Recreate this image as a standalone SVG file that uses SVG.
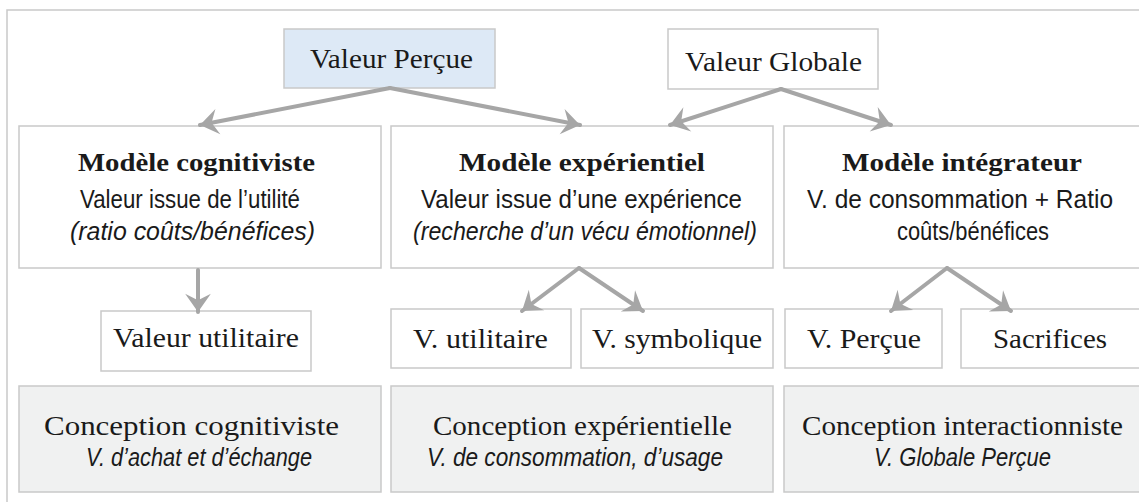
<svg xmlns="http://www.w3.org/2000/svg" width="1139" height="502" viewBox="0 0 1139 502">
<style>
.box{fill:#ffffff;stroke:#c9c9c9;stroke-width:1.5}
.blue{fill:#dde9f6;stroke:#c9c9c9;stroke-width:1.5}
.grey{fill:#f0f1f1;stroke:#c9c9c9;stroke-width:1.5}
.serif{font-family:"Liberation Serif","Times New Roman",serif;font-size:27px;fill:#1a1a1a;text-anchor:middle}
.bold{font-family:"Liberation Serif","Times New Roman",serif;font-size:26px;font-weight:bold;fill:#1a1a1a;text-anchor:middle}
.sans{font-family:"Liberation Sans",Arial,sans-serif;font-size:25px;fill:#1a1a1a;text-anchor:middle}
.ital{font-family:"Liberation Sans",Arial,sans-serif;font-size:25px;font-style:italic;fill:#1a1a1a;text-anchor:middle}
.conn{stroke:#a6a6a6;stroke-width:4;fill:none;stroke-linecap:round;marker-end:url(#ah)}
</style>
<defs>
<marker id="ah" markerUnits="userSpaceOnUse" markerWidth="30" markerHeight="30" viewBox="-18 -14 20 28" refX="0" refY="0" orient="auto">
<path d="M0,0 L-17,-12 L-11,0 L-17,12 Z" fill="#a6a6a6"/>
</marker>
</defs>
<rect id="frame" x="7" y="10" width="1150" height="510" fill="#ffffff" stroke="#c9c9c9" stroke-width="1.5"/>

<g id="valeur-percue">
<rect class="blue" x="284" y="29" width="211" height="59"/>
<text class="serif" x="391.5" y="68" textLength="163" lengthAdjust="spacingAndGlyphs">Valeur Perçue</text>
</g>
<g id="valeur-globale">
<rect class="box" x="668" y="29" width="210" height="60"/>
<text class="serif" x="773.5" y="71" textLength="177" lengthAdjust="spacingAndGlyphs">Valeur Globale</text>
</g>

<g id="modele-cognitiviste">
<rect class="box" x="19" y="126" width="362" height="142"/>
<text class="bold" x="196.5" y="171" textLength="237" lengthAdjust="spacingAndGlyphs">Modèle cognitiviste</text>
<text class="sans" x="190" y="207.5" textLength="220" lengthAdjust="spacingAndGlyphs">Valeur issue de l’utilité</text>
<text class="ital" x="192.5" y="240" textLength="245" lengthAdjust="spacingAndGlyphs">(ratio coûts/bénéfices)</text>
</g>
<g id="modele-experientiel">
<rect class="box" x="391" y="126" width="382" height="142"/>
<text class="bold" x="582" y="171" textLength="246" lengthAdjust="spacingAndGlyphs">Modèle expérientiel</text>
<text class="sans" x="581.5" y="207.5" textLength="321" lengthAdjust="spacingAndGlyphs">Valeur issue d’une expérience</text>
<text class="ital" x="585" y="240" textLength="344" lengthAdjust="spacingAndGlyphs">(recherche d’un vécu émotionnel)</text>
</g>
<g id="modele-integrateur">
<rect class="box" x="784" y="126" width="370" height="142"/>
<text class="bold" x="962" y="171" textLength="240" lengthAdjust="spacingAndGlyphs">Modèle intégrateur</text>
<text class="sans" x="960" y="207.5" textLength="306" lengthAdjust="spacingAndGlyphs">V. de consommation + Ratio</text>
<text class="sans" x="973" y="240" textLength="152" lengthAdjust="spacingAndGlyphs">coûts/bénéfices</text>
</g>

<g id="valeur-utilitaire">
<rect class="box" x="101" y="311" width="210" height="60"/>
<text class="serif" x="206" y="347" textLength="186" lengthAdjust="spacingAndGlyphs">Valeur utilitaire</text>
</g>
<g id="v-utilitaire">
<rect class="box" x="391" y="309" width="180" height="59"/>
<text class="serif" x="480.5" y="348" textLength="135" lengthAdjust="spacingAndGlyphs">V. utilitaire</text>
</g>
<g id="v-symbolique">
<rect class="box" x="581" y="309" width="192" height="59"/>
<text class="serif" x="677" y="348" textLength="170" lengthAdjust="spacingAndGlyphs">V. symbolique</text>
</g>
<g id="v-percue">
<rect class="box" x="785" y="309" width="157" height="59"/>
<text class="serif" x="864" y="348" textLength="114" lengthAdjust="spacingAndGlyphs">V. Perçue</text>
</g>
<g id="sacrifices">
<rect class="box" x="961" y="309" width="190" height="59"/>
<text class="serif" x="1050" y="348" textLength="114" lengthAdjust="spacingAndGlyphs">Sacrifices</text>
</g>

<g id="conception-cognitiviste">
<rect class="grey" x="19" y="386" width="362" height="106"/>
<text class="serif" x="191.5" y="435" textLength="295" lengthAdjust="spacingAndGlyphs">Conception cognitiviste</text>
<text class="ital" x="199" y="466" textLength="226" lengthAdjust="spacingAndGlyphs">V. d’achat et d’échange</text>
</g>
<g id="conception-experientielle">
<rect class="grey" x="391" y="386" width="382" height="106"/>
<text class="serif" x="582.5" y="435" textLength="299" lengthAdjust="spacingAndGlyphs">Conception expérientielle</text>
<text class="ital" x="575" y="466" textLength="296" lengthAdjust="spacingAndGlyphs">V. de consommation, d’usage</text>
</g>
<g id="conception-interactionniste">
<rect class="grey" x="784" y="386" width="370" height="106"/>
<text class="serif" x="962.5" y="435" textLength="321" lengthAdjust="spacingAndGlyphs">Conception interactionniste</text>
<text class="ital" x="962.5" y="466" textLength="177" lengthAdjust="spacingAndGlyphs">V. Globale Perçue</text>
</g>

<g id="connectors">
<line class="conn" x1="390" y1="88" x2="200" y2="125"/>
<line class="conn" x1="390" y1="88" x2="580" y2="125"/>
<line class="conn" x1="781" y1="89" x2="670" y2="125"/>
<line class="conn" x1="781" y1="89" x2="891" y2="125"/>
<line class="conn" x1="198" y1="270" x2="198" y2="312"/>
<line class="conn" x1="579" y1="268" x2="522" y2="311"/>
<line class="conn" x1="579" y1="268" x2="643" y2="311"/>
<line class="conn" x1="947" y1="268" x2="891" y2="311"/>
<line class="conn" x1="947" y1="268" x2="1011" y2="311"/>
</g>
</svg>
